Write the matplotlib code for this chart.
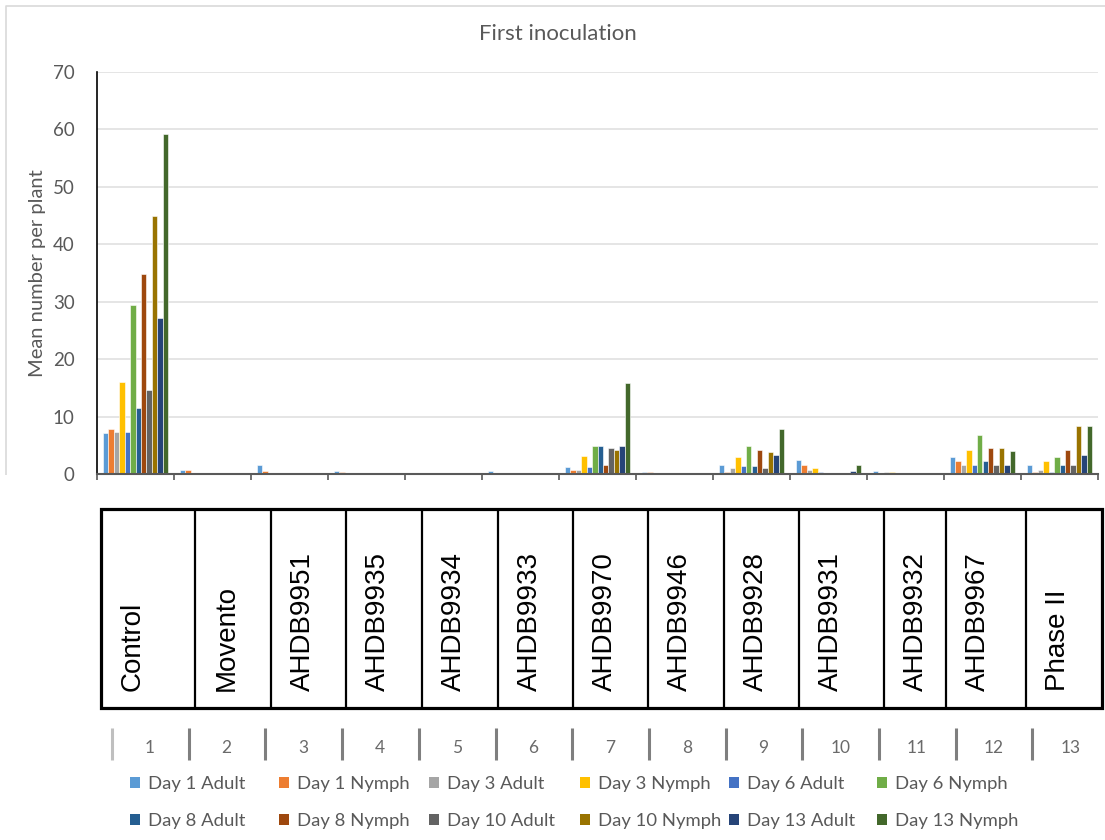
import matplotlib
matplotlib.use("Agg")
import matplotlib.pyplot as plt
from matplotlib.patches import Patch, Rectangle
import numpy as np

# ---------------- data ----------------
treatments = ["Control", "Movento", "AHDB9951", "AHDB9935", "AHDB9934", "AHDB9933",
              "AHDB9970", "AHDB9946", "AHDB9928", "AHDB9931", "AHDB9932", "AHDB9967", "Phase II"]
group_numbers = [str(i) for i in range(1, 14)]

series_names = ["Day 1 Adult", "Day 1 Nymph", "Day 3 Adult", "Day 3 Nymph",
                "Day 6 Adult", "Day 6 Nymph", "Day 8 Adult", "Day 8 Nymph",
                "Day 10 Adult", "Day 10 Nymph", "Day 13 Adult", "Day 13 Nymph"]

day1_adult  = [7.2, 0.8, 1.7, 0.6, 0.2, 0.6, 1.2, 0.35, 1.55, 2.5, 0.55, 2.95, 1.7]
day1_nymph  = [7.9, 0.8, 0.6, 0.4, 0.2, 0.3, 0.8, 0.35, 0.35, 1.55, 0.2, 2.35, 0.35]
day3_adult  = [7.35, 0, 0, 0, 0, 0, 0.8, 0, 1.15, 0.8, 0.35, 1.55, 0.8]
day3_nymph  = [16.0, 0, 0, 0, 0, 0, 3.1, 0, 2.95, 1.15, 0.35, 4.3, 2.35]
day6_adult  = [7.35, 0, 0, 0, 0, 0, 1.2, 0, 1.4, 0.35, 0, 1.55, 0.35]
day6_nymph  = [29.4, 0, 0, 0, 0, 0, 4.85, 0, 4.85, 0.2, 0, 6.8, 2.95]
day8_adult  = [11.5, 0, 0, 0, 0, 0, 5.0, 0, 1.4, 0.2, 0, 2.35, 1.7]
day8_nymph  = [34.8, 0, 0, 0, 0, 0, 1.7, 0, 4.3, 0.2, 0, 4.5, 4.3]
day10_adult = [14.7, 0, 0, 0, 0, 0, 4.5, 0, 1.15, 0, 0, 1.55, 1.7]
day10_nymph = [44.9, 0, 0, 0, 0, 0, 4.3, 0, 3.9, 0, 0, 4.5, 8.4]
day13_adult = [27.1, 0, 0, 0, 0, 0, 4.85, 0, 3.3, 0.6, 0, 1.7, 3.3]
day13_nymph = [59.2, 0, 0, 0, 0, 0, 15.9, 0, 7.85, 1.7, 0, 4.1, 8.4]

series_values = [day1_adult, day1_nymph, day3_adult, day3_nymph, day6_adult, day6_nymph,
                 day8_adult, day8_nymph, day10_adult, day10_nymph, day13_adult, day13_nymph]

colors = ["#5B9BD5", "#ED7D31", "#A5A5A5", "#FFC000", "#4472C4", "#70AD47",
          "#255E91", "#9E480E", "#636363", "#997300", "#264478", "#43682B"]

# ---------------- figure ----------------
W, H = 1105, 840
fig = plt.figure(figsize=(W / 100, H / 100), dpi=100)
fig.patch.set_facecolor("white")
TXT = "#595959"
FONT = ["Lato", "DejaVu Sans"]

def box(l, t, r, b):
    return [l / W, 1 - b / H, (r - l) / W, (b - t) / H]

# overlay in pixel coordinates for decorations
ov = fig.add_axes([0, 0, 1, 1], zorder=0)
ov.set_xlim(0, W)
ov.set_ylim(H, 0)
ov.axis("off")

# chart area border (light gray)
ov.plot([6, 6, W], [475, 6, 6], color="#D9D9D9", lw=1.2, solid_capstyle="butt")

# main bar axes
ax = fig.add_axes(box(97, 71.7, 1098, 474.3), zorder=2)
ax.patch.set_alpha(0)
n_groups = len(treatments)
n_series = len(series_values)
bw = 0.857 / n_series
x = np.arange(n_groups) + 0.5
for k, (vals, c) in enumerate(zip(series_values, colors)):
    offs = (k - (n_series - 1) / 2) * bw
    ax.bar(x + offs, vals, width=bw, color=c, edgecolor="white", linewidth=0.4, zorder=2)

ax.set_xlim(0, n_groups)
ax.set_ylim(0, 70)
ax.set_yticks(np.arange(0, 71, 10))
ax.yaxis.grid(True, color="#DEDEDE", lw=1.1)
ax.set_axisbelow(True)
for s in ["top", "right"]:
    ax.spines[s].set_visible(False)
ax.spines["left"].set_color("black")
ax.spines["left"].set_linewidth(1.2)
ax.spines["bottom"].set_color("#595959")
ax.spines["bottom"].set_linewidth(1.5)
ax.spines["bottom"].set_zorder(3)
ax.set_xticks(np.arange(0, n_groups + 1))
ax.set_xticklabels([])
ax.tick_params(axis="x", length=4, width=1.2, color="#595959", direction="out")
ax.tick_params(axis="y", length=0, pad=16, labelsize=13.5, labelcolor=TXT)
for lab in ax.get_yticklabels():
    lab.set_family(FONT)
ax.set_ylabel("Mean number per plant", fontsize=14.5, color=TXT, family=FONT, labelpad=5)

# title
fig.text(558 / W, 1 - 34 / H, "First inoculation", ha="center", va="center",
         fontsize=16, color=TXT, family=FONT)

# ---------------- table of treatment names ----------------
cell_edges = [101, 195, 271, 346, 422, 498, 573, 648, 724, 799, 884, 946, 1026, 1102]
t_top, t_bot = 508.5, 707.7
for xe in cell_edges[1:-1]:
    ov.plot([xe, xe], [t_top, t_bot], color="black", lw=1.6, solid_capstyle="butt")
ov.add_patch(Rectangle((cell_edges[0], t_top), cell_edges[-1] - cell_edges[0], t_bot - t_top,
                       fill=False, edgecolor="black", lw=2.3, joinstyle="miter"))
for name, left in zip(treatments, cell_edges[:-1]):
    ov.text(left + 19, 691, name, rotation=90, ha="left", va="bottom",
            fontsize=20, family=["Liberation Sans", "DejaVu Sans"], color="black")

# ---------------- category number row ----------------
pitch = 76.7
for k in range(n_groups):
    xt = 112 + pitch * k
    ov.plot([xt, xt], [728, 760], color="#BFBFBF" if k == 0 else "#7F7F7F",
            lw=2.2, solid_capstyle="butt")
    ov.text(150 + pitch * k, 748, group_numbers[k], ha="center", va="center",
            fontsize=12.5, color="#6A6A6A", family=FONT)

# ---------------- legend (6 columns x 2 rows) ----------------
handles = [Patch(facecolor=c, edgecolor="none") for c in colors]
col_x = [130, 279, 429, 580, 729, 877]
for j, cx in enumerate(col_x):
    idx = [j, j + 6]
    fig.legend([handles[i] for i in idx], [series_names[i] for i in idx],
               loc="upper left", bbox_to_anchor=(cx / W, 1 - 776 / H),
               frameon=False, ncol=1, borderpad=0, borderaxespad=0,
               handlelength=0.55, handleheight=0.55, handletextpad=0.45,
               labelspacing=1.15, labelcolor=TXT, prop={"family": FONT, "size": 13.3})

fig.savefig("out.png", dpi=100, facecolor="white")
